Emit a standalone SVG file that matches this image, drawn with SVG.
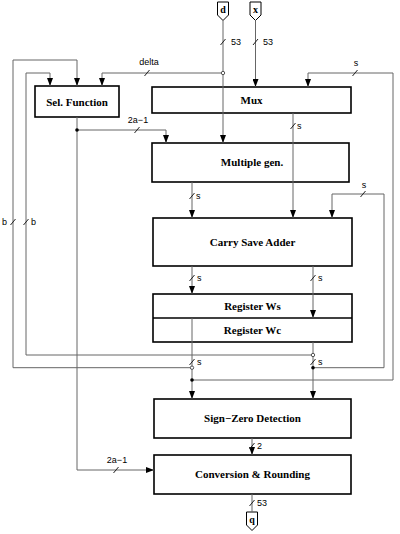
<svg xmlns="http://www.w3.org/2000/svg" width="400" height="534" viewBox="0 0 400 534">
<defs>
<marker id="ar" markerUnits="userSpaceOnUse" markerWidth="8" markerHeight="6" refX="8" refY="3" orient="auto" viewBox="0 0 8 6">
<path d="M0,0 L8,3 L0,6 Z" fill="#000"/>
</marker>
<style>
.box{fill:#fff;stroke:#000;stroke-width:1.6}
.bt{font-family:"Liberation Serif","Times New Roman",serif;font-weight:bold;font-size:11px;text-anchor:middle;fill:#000}
.w{fill:none;stroke:#666;stroke-width:1}
.sl{stroke:#222;stroke-width:1}
.lb{font-family:"Liberation Sans",Arial,sans-serif;font-size:9px;fill:#000}
.pin{fill:#fff;stroke:#000;stroke-width:1}
.pt{font-family:"Liberation Serif","Times New Roman",serif;font-weight:bold;font-size:10px;text-anchor:middle}
.dot{fill:#000}
.od{fill:#fff;stroke:#444;stroke-width:0.9}
</style>
</defs>
<rect width="400" height="534" fill="#fff"/>

<g id="sel"><rect class="box" x="35" y="86" width="84" height="31"/><text class="bt" x="77" y="105.5">Sel. Function</text></g>
<g id="mux"><rect class="box" x="152" y="87" width="199" height="26"/><text class="bt" x="251.5" y="104">Mux</text></g>
<g id="mgen"><rect class="box" x="152" y="143" width="197" height="39"/><text class="bt" x="252" y="166">Multiple gen.</text></g>
<g id="csa"><rect class="box" x="153" y="218" width="199" height="48"/><text class="bt" x="252.5" y="245.5">Carry Save Adder</text></g>
<g id="reg"><rect class="box" x="153" y="294" width="199" height="48"/><line x1="153" y1="318" x2="352" y2="318" stroke="#000" stroke-width="1.6"/><text class="bt" x="252.5" y="310">Register Ws</text><text class="bt" x="252.5" y="334">Register Wc</text></g>
<g id="szd"><rect class="box" x="154" y="399" width="197" height="39"/><text class="bt" x="252.5" y="422">Sign−Zero Detection</text></g>
<g id="conv"><rect class="box" x="154" y="455" width="197" height="39"/><text class="bt" x="252.5" y="478">Conversion &amp; Rounding</text></g>

<g id="in-d"><path class="pin" d="M217.5,2 H228.5 V15 L223,20.5 L217.5,15 Z"/><text class="pt" x="223" y="13">d</text></g>
<g id="in-x"><path class="pin" d="M250,2 H261 V15 L255.5,20.5 L250,15 Z"/><text class="pt" x="255.5" y="13">x</text></g>
<g id="out-q"><path class="pin" d="M246.5,512 H257.5 V525 L252,530.5 L246.5,525 Z"/><text class="pt" x="252" y="523">q</text></g>

<g id="connectors">
<path class="w" d="M223,20.5 V143" marker-end="url(#ar)"/>
<path class="w" d="M255.5,20.5 V87" marker-end="url(#ar)"/>
<path class="w" d="M223,73 H102 V86" marker-end="url(#ar)"/>
<path class="w" d="M192,380 H393 V73 H308 V87" marker-end="url(#ar)"/>
<path class="w" d="M293,113 V218" marker-end="url(#ar)"/>
<path class="w" d="M77,117 V470 H154" marker-end="url(#ar)"/>
<path class="w" d="M77,130 H166 V143" marker-end="url(#ar)"/>
<path class="w" d="M192,182 V218" marker-end="url(#ar)"/>
<path class="w" d="M313,367.7 H384 V194 H332 V218" marker-end="url(#ar)"/>
<path class="w" d="M192,266 V294" marker-end="url(#ar)"/>
<path class="w" d="M313,266 V318" marker-end="url(#ar)"/>
<path class="w" d="M192,318 V399" marker-end="url(#ar)"/>
<path class="w" d="M313,342 V399" marker-end="url(#ar)"/>
<path class="w" d="M313,355 H26 V73 H50 V86" marker-end="url(#ar)"/>
<path class="w" d="M192,367.7 H13 V60 H77 V86" marker-end="url(#ar)"/>
<path class="w" d="M252,438 V455" marker-end="url(#ar)"/>
<path class="w" d="M252,494 V512"/>

<g class="sl">
<line x1="220.5" y1="45" x2="225.5" y2="39"/>
<line x1="253" y1="45" x2="258" y2="39"/>
<line x1="144.5" y1="76" x2="149.5" y2="70"/>
<line x1="352.5" y1="76" x2="357.5" y2="70"/>
<line x1="290.5" y1="129" x2="295.5" y2="123"/>
<line x1="134.5" y1="133" x2="139.5" y2="127"/>
<line x1="189.5" y1="199" x2="194.5" y2="193"/>
<line x1="360.5" y1="197" x2="365.5" y2="191"/>
<line x1="10.5" y1="225" x2="15.5" y2="219"/>
<line x1="23.5" y1="225" x2="28.5" y2="219"/>
<line x1="189.5" y1="281" x2="194.5" y2="275"/>
<line x1="310.5" y1="281" x2="315.5" y2="275"/>
<line x1="189.5" y1="365" x2="194.5" y2="359"/>
<line x1="310.5" y1="365" x2="315.5" y2="359"/>
<line x1="249.5" y1="449" x2="254.5" y2="443"/>
<line x1="249.5" y1="506" x2="254.5" y2="500"/>
<line x1="113.5" y1="473" x2="118.5" y2="467"/>
</g>

<circle class="dot" cx="77" cy="130" r="1.8"/>
<circle class="dot" cx="192" cy="380" r="1.8"/>
<circle class="dot" cx="313" cy="367.7" r="1.8"/>
<circle class="od" cx="223" cy="73" r="1.7"/>
<circle class="od" cx="192" cy="367.7" r="1.7"/>
<circle class="od" cx="313" cy="355" r="1.7"/>

<g class="lb">
<text x="231" y="45">53</text>
<text x="263" y="45">53</text>
<text x="149" y="65" text-anchor="middle">delta</text>
<text x="356" y="66" text-anchor="middle">s</text>
<text x="297" y="129">s</text>
<text x="138" y="123" text-anchor="middle">2a−1</text>
<text x="196" y="199">s</text>
<text x="364" y="188" text-anchor="middle">s</text>
<text x="2" y="225">b</text>
<text x="31" y="225">b</text>
<text x="197" y="281">s</text>
<text x="318" y="281">s</text>
<text x="197" y="365">s</text>
<text x="318" y="365">s</text>
<text x="257" y="449">2</text>
<text x="257" y="506">53</text>
<text x="117" y="463" text-anchor="middle">2a−1</text>
</g>
</g>
</svg>
